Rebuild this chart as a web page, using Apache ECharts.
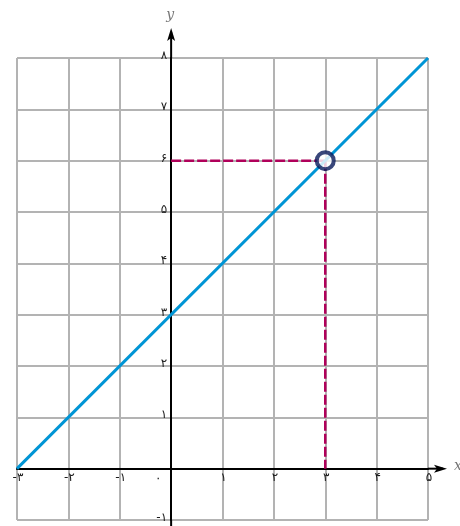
<!DOCTYPE html>
<html>
<head>
<meta charset="utf-8">
<script src="https://cdn.jsdelivr.net/npm/echarts@6/dist/echarts.min.js"></script>
<style>html,body{margin:0;padding:0;background:#fff}#c{width:460px;height:526px}</style>
</head>
<body>
<div id="c"></div>
<script>
// ---- data ----
const xMin = -3, xMax = 5;
const yMin = -1, yMax = 8;
const xTicks = [-3, -2, -1, 0, 1, 2, 3, 4, 5];
const yTicks = [-1, 1, 2, 3, 4, 5, 6, 7, 8];
const persianDigits = ['۰','۱','۲','۳','۴','۵','۶','۷','۸','۹'];
const xName = 'x';
const yName = 'y';
const lineX = [-3, 5];
const lineY = [0, 8];
const pointX = [3];
const pointY = [6];
const guideHX = [0, 3];
const guideHY = [6, 6];
const guideVX = [3, 3];
const guideVY = [6, 0];

function fa(v) {
  const s = String(Math.abs(v)).split('').map(d => persianDigits[+d]).join('');
  return (v < 0 ? '-' : '') + s;
}
const pairs = (xs, ys) => xs.map((x, i) => [x, ys[i]]);

const chart = echarts.init(document.getElementById('c'), null, {renderer: 'canvas'});
chart.setOption({
  animation: false,
  backgroundColor: '#fff',
  grid: {left: 17, right: 32, top: 58, bottom: 6, containLabel: false, outerBoundsMode: 'none'},
  xAxis: {
    type: 'value', min: xMin, max: xMax, interval: 1,
    axisLine: {show: true, onZero: true, lineStyle: {color: '#000', width: 2}},
    axisTick: {show: false},
    splitLine: {show: true, lineStyle: {color: '#b3b3b3', width: 2}},
    axisLabel: {show: false}
  },
  yAxis: {
    type: 'value', min: yMin, max: yMax, interval: 1,
    axisLine: {show: true, onZero: true, lineStyle: {color: '#000', width: 2}},
    axisTick: {show: false},
    splitLine: {show: true, lineStyle: {color: '#b3b3b3', width: 2}},
    axisLabel: {show: false}
  },
  series: [
    {
      type: 'line', data: pairs(guideHX, guideHY), symbol: 'none', z: 3,
      lineStyle: {color: '#b0005a', width: 2.5, type: [10, 3]}
    },
    {
      type: 'line', data: pairs(guideVX, guideVY), symbol: 'none', z: 3,
      lineStyle: {color: '#b0005a', width: 2.5, type: [10, 3]}
    },
    {
      type: 'line', data: pairs(lineX, lineY), symbol: 'none', z: 4,
      lineStyle: {color: '#0095d5', width: 3}
    },
    {
      type: 'scatter', data: pairs(pointX, pointY), symbol: 'circle', symbolSize: 17, z: 5,
      itemStyle: {color: '#fff', borderColor: '#08195a', borderWidth: 4}
    }
  ]
});

// axis extensions, arrow heads, names and tick labels placed on the zero lines
const P = p => chart.convertToPixel({gridIndex: 0}, p);
const o = P([0, 0]);
const xe = P([xMax, 0]);
const ye = P([0, yMax]);
const yb = P([0, yMin]);
const xTip = xe[0] + 19;
const yTip = ye[1] - 30;
const font = {fontFamily: 'DejaVu Sans', fontSize: 12, fill: '#1a1a1a'};
const nameFont = {fontFamily: 'DejaVu Serif', fontStyle: 'italic', fontSize: 14, fill: '#777'};
const g = [
  {type: 'line', shape: {x1: xe[0], y1: o[1], x2: xTip - 4, y2: o[1]}, style: {stroke: '#000', lineWidth: 2}, z: 10},
  {type: 'polygon', shape: {points: [[xTip, o[1]], [xTip - 13, o[1] - 4], [xTip - 10, o[1]], [xTip - 13, o[1] + 4]]}, style: {fill: '#000'}, z: 10},
  {type: 'line', shape: {x1: o[0], y1: ye[1], x2: o[0], y2: yTip + 4}, style: {stroke: '#000', lineWidth: 2}, z: 10},
  {type: 'polygon', shape: {points: [[o[0], yTip], [o[0] - 4, yTip + 13], [o[0], yTip + 10], [o[0] + 4, yTip + 13]]}, style: {fill: '#000'}, z: 10},
  {type: 'line', shape: {x1: o[0], y1: yb[1], x2: o[0], y2: 526}, style: {stroke: '#000', lineWidth: 2}, z: 10},
  {type: 'text', x: xTip + 11, y: o[1] - 2, style: Object.assign({text: xName, align: 'center', verticalAlign: 'middle'}, nameFont), z: 11},
  {type: 'text', x: o[0] - 1, y: ye[1] - 43, style: Object.assign({text: yName, align: 'center', verticalAlign: 'middle'}, nameFont), z: 11}
];
xTicks.forEach(v => {
  const p = P([v, 0]);
  if (v === 0) {
    g.push({type: 'text', x: p[0] - 13, y: p[1] + 10, style: Object.assign({text: fa(0), align: 'center', verticalAlign: 'middle'}, font), z: 11});
  } else {
    g.push({type: 'text', x: p[0] + 1, y: p[1] + 3, style: Object.assign({text: fa(v), align: 'center', verticalAlign: 'top'}, font), z: 11});
  }
});
yTicks.forEach(v => {
  const p = P([0, v]);
  g.push({type: 'text', x: p[0] - 4, y: p[1] - 2, style: Object.assign({text: fa(v), align: 'right', verticalAlign: 'middle'}, font), z: 11});
});
chart.setOption({graphic: g});
</script>
</body>
</html>
